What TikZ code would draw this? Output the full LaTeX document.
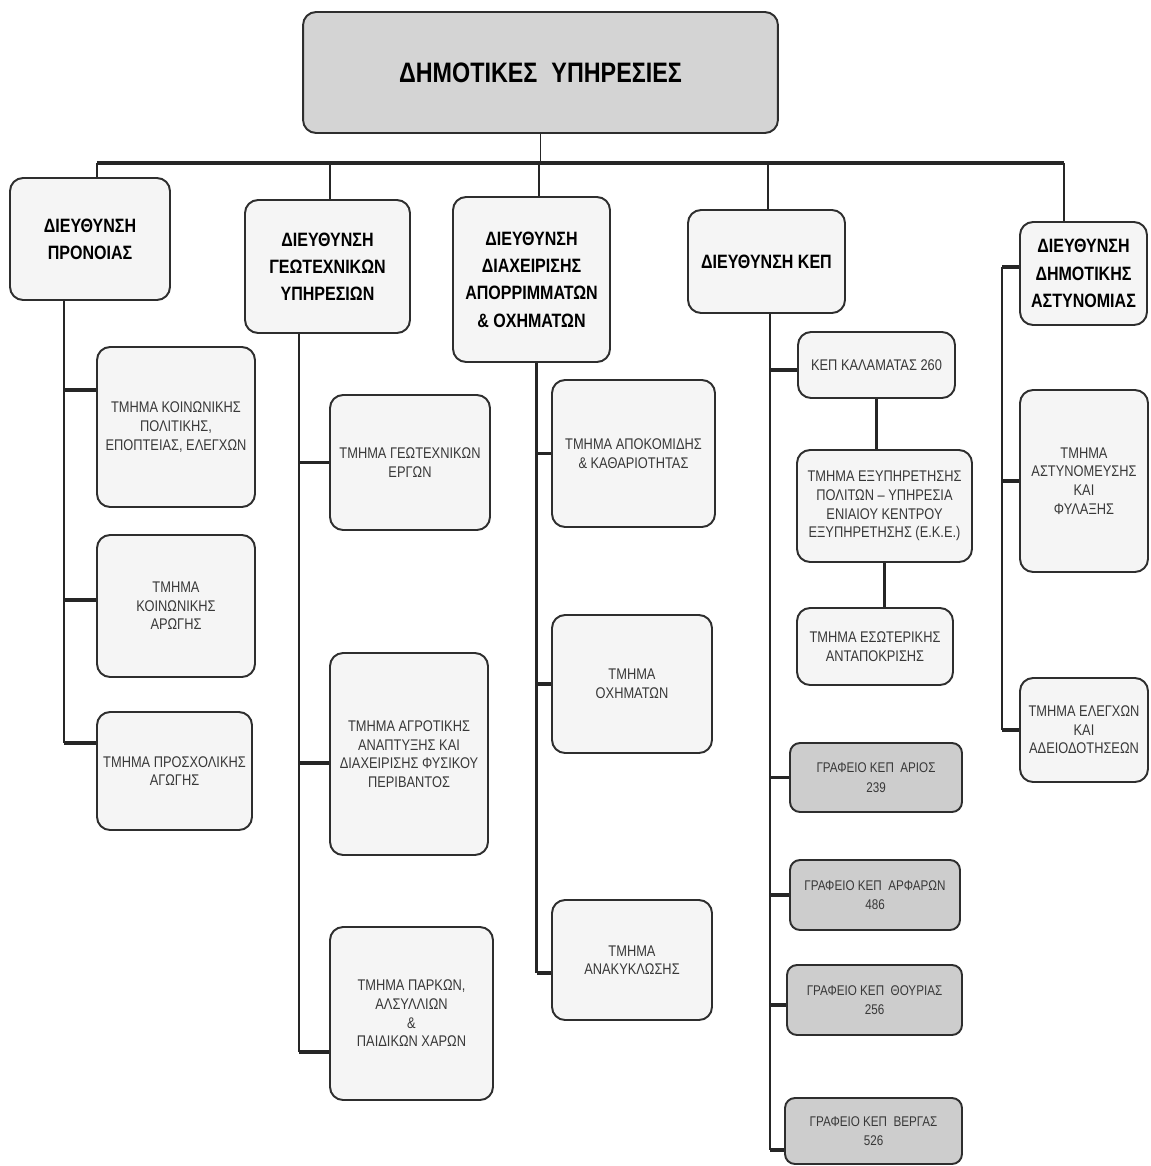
\documentclass[tikz,border=0pt]{standalone}
\usepackage{fontspec}
\setmainfont{Liberation Sans}[FakeStretch=0.83]

\definecolor{boxline}{HTML}{2E2E2E}
\definecolor{boxfill}{HTML}{F5F5F5}
\definecolor{headfill}{HTML}{D4D4D4}
\definecolor{officefill}{HTML}{CDCDCD}
\definecolor{wire}{HTML}{262626}

\begin{document}
\begin{tikzpicture}[x=0.02cm, y=-0.02cm,
	box/.style={draw=boxline, line width=1.1pt, rounded corners=0.26cm, fill=boxfill, align=center, inner sep=2pt},
	headbox/.style={box, fill=headfill, font=\fontsize{16}{19}\selectfont\bfseries},
	dirbox/.style={box, font=\fontsize{11}{15.5}\selectfont\bfseries},
	unitbox/.style={box, text=black!78, font=\fontsize{8.8}{10.6}\selectfont},
	officebox/.style={box, fill=officefill, text=black!78, font=\fontsize{8}{11}\selectfont, rounded corners=0.2cm},
	busline/.style={wire, line width=2.2pt},
	dropline/.style={wire, line width=1pt},
	stemline/.style={wire, line width=1.3pt},
	branchline/.style={wire, line width=2.2pt},
]

	\useasboundingbox (0,0) rectangle (1150,1166);

	% top level
	\node[headbox, minimum width=9.5cm, minimum height=2.42cm] (top) at (540.5,72.5) {ΔΗΜΟΤΙΚΕΣ\enskip ΥΠΗΡΕΣΙΕΣ};

	% directorates
	\node[dirbox, minimum width=3.2cm, minimum height=2.44cm] (prn) at (90,239) {ΔΙΕΥΘΥΝΣΗ\\ΠΡΟΝΟΙΑΣ};
	\node[dirbox, minimum width=3.3cm, minimum height=2.66cm] (geo) at (327.5,266.5) {ΔΙΕΥΘΥΝΣΗ\\ΓΕΩΤΕΧΝΙΚΩΝ\\ΥΠΗΡΕΣΙΩΝ};
	\node[dirbox, minimum width=3.14cm, minimum height=3.3cm] (apr) at (531.5,279.5) {ΔΙΕΥΘΥΝΣΗ\\ΔΙΑΧΕΙΡΙΣΗΣ\\ΑΠΟΡΡΙΜΜΑΤΩΝ\\\& ΟΧΗΜΑΤΩΝ};
	\node[dirbox, minimum width=3.14cm, minimum height=2.06cm] (kep) at (766.5,261.5) {ΔΙΕΥΘΥΝΣΗ ΚΕΠ};
	\node[dirbox, minimum width=2.54cm, minimum height=2.06cm] (ast) at (1083.5,273.5) {ΔΙΕΥΘΥΝΣΗ\\ΔΗΜΟΤΙΚΗΣ\\ΑΣΤΥΝΟΜΙΑΣ};

	% departments
	\node[unitbox, minimum width=3.16cm, minimum height=3.2cm] (p1) at (176,427) {ΤΜΗΜΑ ΚΟΙΝΩΝΙΚΗΣ\\ΠΟΛΙΤΙΚΗΣ,\\ΕΠΟΠΤΕΙΑΣ, ΕΛΕΓΧΩΝ};
	\node[unitbox, minimum width=3.16cm, minimum height=2.84cm] (p2) at (176,606) {ΤΜΗΜΑ\\ΚΟΙΝΩΝΙΚΗΣ\\ΑΡΩΓΗΣ};
	\node[unitbox, minimum width=3.1cm, minimum height=2.36cm] (p3) at (174.5,771) {ΤΜΗΜΑ ΠΡΟΣΧΟΛΙΚΗΣ\\ΑΓΩΓΗΣ};

	\node[unitbox, minimum width=3.2cm, minimum height=2.7cm] (g1) at (410,462.5) {ΤΜΗΜΑ ΓΕΩΤΕΧΝΙΚΩΝ\\ΕΡΓΩΝ};
	\node[unitbox, minimum width=3.16cm, minimum height=4.04cm] (g2) at (409,754) {ΤΜΗΜΑ ΑΓΡΟΤΙΚΗΣ\\ΑΝΑΠΤΥΞΗΣ ΚΑΙ\\ΔΙΑΧΕΙΡΙΣΗΣ ΦΥΣΙΚΟΥ\\ΠΕΡΙΒΑΝΤΟΣ};
	\node[unitbox, minimum width=3.26cm, minimum height=3.46cm] (g3) at (411.5,1013.5) {ΤΜΗΜΑ ΠΑΡΚΩΝ,\\ΑΛΣΥΛΛΙΩΝ\\\&\\ΠΑΙΔΙΚΩΝ ΧΑΡΩΝ};

	\node[unitbox, minimum width=3.26cm, minimum height=2.94cm] (a1) at (633.5,453.5) {ΤΜΗΜΑ ΑΠΟΚΟΜΙΔΗΣ\\\& ΚΑΘΑΡΙΟΤΗΤΑΣ};
	\node[unitbox, minimum width=3.2cm, minimum height=2.76cm] (a2) at (632,684) {ΤΜΗΜΑ\\ΟΧΗΜΑΤΩΝ};
	\node[unitbox, minimum width=3.2cm, minimum height=2.4cm] (a3) at (632,960) {ΤΜΗΜΑ\\ΑΝΑΚΥΚΛΩΣΗΣ};

	\node[unitbox, minimum width=3.14cm, minimum height=1.32cm] (k1) at (876.5,365) {ΚΕΠ ΚΑΛΑΜΑΤΑΣ 260};
	\node[unitbox, minimum width=3.5cm, minimum height=2.24cm] (k2) at (884.5,506) {ΤΜΗΜΑ ΕΞΥΠΗΡΕΤΗΣΗΣ\\ΠΟΛΙΤΩΝ – ΥΠΗΡΕΣΙΑ\\ΕΝΙΑΙΟΥ ΚΕΝΤΡΟΥ\\ΕΞΥΠΗΡΕΤΗΣΗΣ (Ε.Κ.Ε.)};
	\node[unitbox, minimum width=3.12cm, minimum height=1.54cm] (k3) at (875,646.5) {ΤΜΗΜΑ ΕΣΩΤΕΡΙΚΗΣ\\ΑΝΤΑΠΟΚΡΙΣΗΣ};
	\node[officebox, minimum width=3.44cm, minimum height=1.38cm] (k4) at (876,777.5) {ΓΡΑΦΕΙΟ ΚΕΠ~ ΑΡΙΟΣ\\239};
	\node[officebox, minimum width=3.4cm, minimum height=1.4cm] (k5) at (875,895) {ΓΡΑΦΕΙΟ ΚΕΠ~ ΑΡΦΑΡΩΝ\\486};
	\node[officebox, minimum width=3.5cm, minimum height=1.4cm] (k6) at (874.5,1000) {ΓΡΑΦΕΙΟ ΚΕΠ~ ΘΟΥΡΙΑΣ\\256};
	\node[officebox, minimum width=3.54cm, minimum height=1.32cm] (k7) at (873.5,1131) {ΓΡΑΦΕΙΟ ΚΕΠ~ ΒΕΡΓΑΣ\\526};

	\node[unitbox, minimum width=2.56cm, minimum height=3.64cm] (t1) at (1084,481) {ΤΜΗΜΑ\\ΑΣΤΥΝΟΜΕΥΣΗΣ\\ΚΑΙ\\ΦΥΛΑΞΗΣ};
	\node[unitbox, minimum width=2.56cm, minimum height=2.08cm] (t2) at (1084,730) {ΤΜΗΜΑ ΕΛΕΓΧΩΝ\\ΚΑΙ\\ΑΔΕΙΟΔΟΤΗΣΕΩΝ};

	% bus and drops
	\coordinate (bus) at (540,163);
	\coordinate (d1) at ([xshift=0.14cm]prn.north);
	\coordinate (d2) at ([xshift=0.05cm]geo.north);
	\coordinate (d3) at ([xshift=0.15cm]apr.north);
	\coordinate (d4) at ([xshift=0.03cm]kep.north);
	\coordinate (d5) at ([xshift=-0.39cm]ast.north);
	\draw[dropline, line width=0.6pt] (top.south) -- (top.south |- bus);
	\foreach \i in {1,...,5}
		\draw[dropline] (d\i) -- (d\i |- bus);
	\draw[busline] (d1 |- bus) -- (d5 |- bus);

	% stems
	\coordinate (s1) at ([xshift=1.1cm]prn.south west);
	\coordinate (s2) at ([xshift=1.1cm]geo.south west);
	\coordinate (s3) at ([xshift=0.1cm]apr.south);
	\coordinate (s4) at ([xshift=0.07cm]kep.south);
	\coordinate (ast-in) at ([yshift=0.13cm]ast.west);
	\coordinate (s5) at ([xshift=-0.34cm]ast-in);

	\foreach \b/\s in {p1/0.74, p2/0.12, p3/0.56, g1/0, g2/-0.18, g3/-0.77, a1/0, a2/0, a3/-0.26,
			k1/-0.1, k4/0, k5/0, k6/-0.1, k7/-0.38, t1/0, t2/0}
		\coordinate (\b-in) at ([yshift=\s cm]\b.west);

	\draw[stemline] (s1) -- (p3-in -| s1);
	\draw[stemline] (s2) -- (g3-in -| s2);
	\draw[stemline] (s3) -- (a3-in -| s3);
	\draw[stemline] (s4) -- (k7-in -| s4);
	\draw[stemline] (s5) -- (t2-in -| s5);

	% branches
	\foreach \b/\c in {p1/s1, p2/s1, p3/s1, g1/s2, g2/s2, g3/s2, a1/s3, a2/s3, a3/s3,
			k1/s4, k4/s4, k5/s4, k6/s4, k7/s4, t1/s5, t2/s5, ast/s5}
		\draw[branchline] (\b-in -| \c) -- (\b-in);

	% links inside the KEP column
	\draw[branchline] (k1.south) -- (k1.south |- k2.north);
	\draw[branchline] (k2.south) -- (k2.south |- k3.north);

\end{tikzpicture}
\end{document}
